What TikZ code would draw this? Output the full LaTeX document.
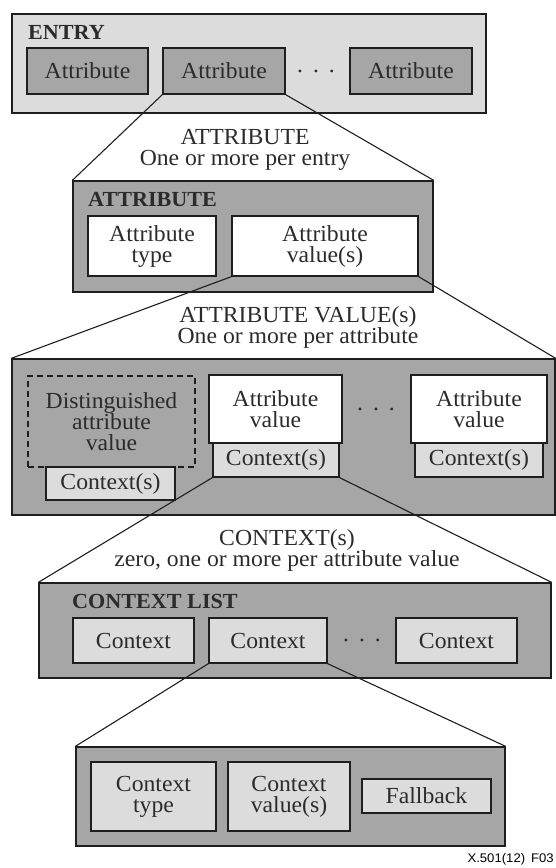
\documentclass[tikz,border=0pt]{standalone}
\usepackage{fontspec}
\setmainfont{Liberation Serif}[FakeStretch=1.03]
\newfontfamily\tagfont{Liberation Sans}[FakeStretch=1.05]
\definecolor{darkfill}{HTML}{A6A6A6}
\definecolor{lightfill}{HTML}{DCDCDC}
\definecolor{edgedraw}{HTML}{1E1E1E}
\definecolor{inkgray}{HTML}{2B2B2B}

\begin{document}
\begin{tikzpicture}[
  x=1pt, y=-1pt,
  font=\fontsize{23}{21}\selectfont, text=inkgray,
  frame/.style={draw=edgedraw, line width=1.3pt, inner sep=0pt,
    align=center},
  darkbox/.style={frame, fill=darkfill},
  lightbox/.style={frame, fill=lightfill},
  whitebox/.style={frame, fill=white},
  dashbox/.style={frame, dash pattern=on 6pt off 4pt},
  grouptitle/.style={font=\fontsize{21.5}{21}\selectfont\bfseries,
    anchor=west, inner sep=0pt},
  caption/.style={align=center, inner sep=0pt},
  dotrow/.style={inner sep=0pt},
  zoomline/.style={draw=edgedraw, line width=1.1pt},
  tag/.style={font=\tagfont\fontsize{12.5}{13}\selectfont, text=black,
    inner sep=0pt}
]
\useasboundingbox (0,0) rectangle (556,868);

% Entry with its attributes.
\node[lightbox, minimum width=474, minimum height=99] (entryBox)
  at (249,63.5) {};
\node[grouptitle] (entryTitle) at (28,32) {ENTRY};
\node[darkbox, minimum width=121, minimum height=46] (attrA)
  at (87.5,71) {Attribute};
\node[darkbox, minimum width=122, minimum height=46] (attrB)
  at (224,71) {Attribute};
\node[darkbox, minimum width=122, minimum height=46] (attrC)
  at (411,71) {Attribute};
\node[dotrow] (entryDots) at (316,71) {.\hspace{10pt}.\hspace{10pt}.};

% One attribute.
\node[caption] (attrCaption) at (245,150)
  {ATTRIBUTE\\One or more per entry};
\node[darkbox, minimum width=360, minimum height=111] (attrBox)
  at (253,236.5) {};
\node[grouptitle] (attrTitle) at (88,199) {ATTRIBUTE};
\node[whitebox, minimum width=128, minimum height=60] (attrType)
  at (152,246) {Attribute\\type};
\node[whitebox, minimum width=186, minimum height=60] (attrValues)
  at (325,246) {Attribute\\value(s)};

% Attribute values.
\node[caption] (valueCaption) at (298,327.5)
  {ATTRIBUTE VALUE(s)\\One or more per attribute};
\node[darkbox, minimum width=543, minimum height=156] (valueBox)
  at (283.5,437) {};
\node[lightbox, minimum width=129, minimum height=33] (ctxZero)
  at (110.5,483.5) {Context(s)};
\node[dashbox, minimum width=167, minimum height=91] (distValue)
  at (111.5,421.5) {Distinguished\\attribute\\value};
\node[whitebox, minimum width=133, minimum height=68] (valueMid)
  at (275.5,409) {Attribute\\value};
\node[lightbox, minimum width=126, minimum height=34] (ctxMid)
  at (276,460) {Context(s)};
\node[dotrow] (valueDots) at (376,409) {.\hspace{10pt}.\hspace{10pt}.};
\node[whitebox, minimum width=136, minimum height=68] (valueRight)
  at (479,409) {Attribute\\value};
\node[lightbox, minimum width=128, minimum height=34] (ctxRight)
  at (479,460) {Context(s)};

% Context list.
\node[caption] (listCaption) at (287,550)
  {CONTEXT(s)\\zero, one or more per attribute value};
\node[darkbox, minimum width=512, minimum height=95] (listBox)
  at (295,630.5) {};
\node[grouptitle] (listTitle) at (72,601) {CONTEXT LIST};
\node[lightbox, minimum width=121, minimum height=45] (ctxA)
  at (133.5,640.5) {Context};
\node[lightbox, minimum width=118, minimum height=45] (ctxB)
  at (268,640.5) {Context};
\node[lightbox, minimum width=121, minimum height=45] (ctxC)
  at (456.5,640.5) {Context};
\node[dotrow] (listDots) at (362,640) {.\hspace{10pt}.\hspace{10pt}.};

% Parts of one context.
\node[darkbox, minimum width=429, minimum height=99] (partBox)
  at (290.5,796.5) {};
\node[lightbox, minimum width=125, minimum height=69] (ctxType)
  at (153.5,796.5) {Context\\type};
\node[lightbox, minimum width=122, minimum height=69] (ctxValues)
  at (289,796.5) {Context\\value(s)};
\node[lightbox, minimum width=129, minimum height=34] (fallback)
  at (426.5,796) {Fallback};

% Zoom lines.
\draw[zoomline] (attrB.south west) -- (attrBox.north west);
\draw[zoomline] (attrB.south east) -- (attrBox.north east);
\draw[zoomline] (attrValues.south west) -- (valueBox.north west);
\draw[zoomline] (attrValues.south east) -- (valueBox.north east);
\draw[zoomline] (ctxMid.south west) -- (listBox.north west);
\draw[zoomline] (ctxMid.south east) -- (listBox.north east);
\draw[zoomline] (ctxB.south west) -- (partBox.north west);
\draw[zoomline] (ctxB.south east) -- (partBox.north east);

\node[tag, anchor=base east] (figTag) at (554,862)
  {X.501(12)\hspace{6pt}F03};

\end{tikzpicture}
\end{document}
